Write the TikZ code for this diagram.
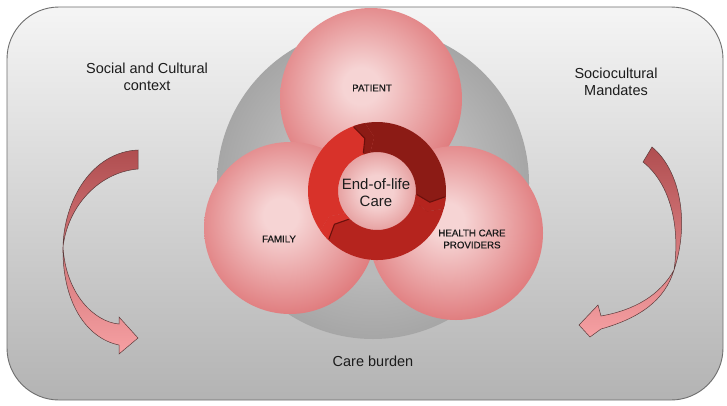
\documentclass[tikz,border=0pt]{standalone}
\usepackage{fontspec}
\setmainfont{Liberation Sans}
\newfontfamily\medfont[FakeBold=0.8]{Liberation Sans}
\definecolor{bgtop}{HTML}{F5F5F5}
\definecolor{bgbot}{HTML}{B3B3B3}
\definecolor{bordergray}{HTML}{6E6E6E}
\definecolor{greyin}{HTML}{B9B9B9}
\definecolor{greyout}{HTML}{A6A6A6}
\definecolor{pkin}{HTML}{F6D4D4}
\definecolor{pkout}{HTML}{DE7577}
\definecolor{holein}{HTML}{F5D0D0}
\definecolor{holeout}{HTML}{E6A0A0}
\definecolor{ringbright}{HTML}{D8322A}
\definecolor{ringdark}{HTML}{8C1B15}
\definecolor{ringmed}{HTML}{B5241E}
\definecolor{ringline}{HTML}{6A100C}
\definecolor{arrtop}{HTML}{B04E50}
\definecolor{arrbot}{HTML}{F6A0A3}
\definecolor{arredge}{HTML}{5A3A3A}
\definecolor{txt}{HTML}{1C1C1C}
\pgfdeclareradialshading{pinkball}{\pgfpoint{-3bp}{4bp}}{color(0bp)=(pkin); color(5bp)=(pkin); color(29bp)=(pkout); color(50bp)=(pkout)}
\pgfdeclareradialshading{greyball}{\pgfpoint{0bp}{0bp}}{color(0bp)=(greyin); color(15bp)=(greyin); color(25bp)=(greyout); color(50bp)=(greyout)}
\pgfdeclareradialshading{holeball}{\pgfpoint{0bp}{0bp}}{color(0bp)=(holein); color(10bp)=(holein); color(25bp)=(holeout); color(50bp)=(holeout)}
\tikzset{
  bigtxt/.style={font=\fontsize{14.5}{16.5}\selectfont, text=txt, align=center, inner sep=0pt},
  ringtxt/.style={font=\fontsize{15}{17}\selectfont, text=txt, align=center, inner sep=0pt},
  smalltxt/.style={font=\medfont\fontsize{9.7}{12}\selectfont, text=txt, align=center, inner sep=0pt},
  ribbon/.style={draw=arredge, line width=0.5, top color=arrtop, bottom color=arrbot},
}
\begin{document}
\begin{tikzpicture}[x=1pt,y=-1pt]
\useasboundingbox (0,0) rectangle (727,405);
\fill[white] (0,0) rectangle (727,405);
% panel
\path[draw=bordergray, line width=0.9, top color=bgtop, bottom color=bgbot, rounded corners=52] (7,7) rectangle (723,400);
% grey disc
\path[shading=greyball] (373,183) circle[radius=156];
% three circles
\path[shading=pinkball] (371,99) circle[radius=91];
\path[shading=pinkball] (290,228) circle[radius=86];
\path[shading=pinkball] (456,233) circle[radius=87];
% ring
\path[shading=holeball] (377,191) circle[radius=40];
\begin{scope}[shift={(377,191)}]
\foreach \a/\b/\c/\d in {15/145/ringmed/ringbright, 145/260/ringbright/ringdark, 260/375/ringdark/ringmed}{
  \pgfmathsetmacro\ap{\a+7}
  \pgfmathsetmacro\bp{\b+7}
  \pgfmathsetmacro\bm{\b-10}
  \pgfmathsetmacro\bmm{\b-3}
  \fill[\c] (\a:69) arc[start angle=\a,end angle=\b,radius=69] -- (\bp:54) -- (\b:39) arc[start angle=\b,end angle=\a,radius=39] -- (\ap:54) -- cycle;
  \fill[\d] (\bm:69) arc[start angle=\bm,end angle=\b,radius=69] -- (\bp:54) -- (\b:39) arc[start angle=\b,end angle=\bm,radius=39] -- (\bmm:54) -- cycle;
  \draw[ringline, line width=1.1, line join=round] (\bm:68) -- (\bmm:54) -- (\bm:40);
}
\end{scope}
% left arrow
\path[ribbon] (138,150) -- (138,169)
  .. controls (100,172) and (68,205) .. (63,247)
  .. controls (66,295) and (95,322) .. (119,324)
  -- (119,317) -- (138,338) -- (119,354) -- (119,345)
  .. controls (85,338) and (62,300) .. (63,247)
  .. controls (64,200) and (92,152) .. (138,150) -- cycle;
% right arrow
\path[ribbon] (643,162) -- (652,147)
  .. controls (680,170) and (690,222) .. (674,270)
  .. controls (665,300) and (640,318) .. (601,329)
  -- (590,337) -- (579,325) -- (598,305) -- (601,316)
  .. controls (635,310) and (660,295) .. (674,270)
  .. controls (680,230) and (672,185) .. (643,162) -- cycle;
% labels
\node[bigtxt] (social) at (147,77) {Social and Cultural\\context};
\node[bigtxt] (mandates) at (616,82) {Sociocultural\\Mandates};
\node[bigtxt, anchor=base] (burden) at (373,366) {Care burden};
\node[ringtxt] (eol) at (376,193) {End-of-life\\Care};
\node[smalltxt] (patient) at (372,88) {PATIENT};
\node[smalltxt] (family) at (279,239) {FAMILY};
\node[smalltxt] (hcp) at (472,239) {HEALTH CARE\\PROVIDERS};
\end{tikzpicture}
\end{document}
